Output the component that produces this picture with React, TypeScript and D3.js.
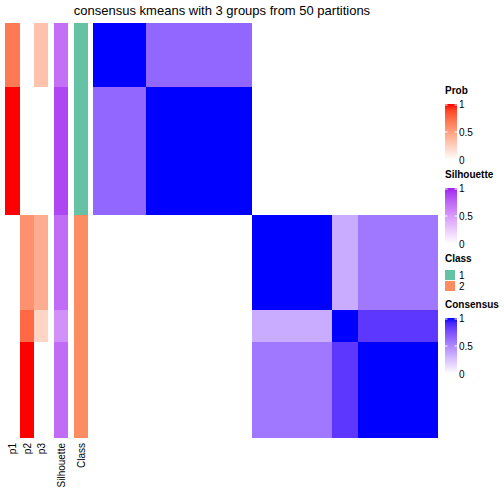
import React from "react";
import * as d3 from "d3";

const title = "consensus kmeans with 3 groups from 50 partitions";
// 13 samples in display order
const p1 = [0.68, 0.68, 1, 1, 1, 1, 0, 0, 0, 0, 0, 0, 0];
const p2 = [0, 0, 0, 0, 0, 0, 0.57, 0.57, 0.57, 0.75, 1, 1, 1];
const p3 = [0.32, 0.32, 0, 0, 0, 0, 0.43, 0.43, 0.43, 0.22, 0, 0, 0];
const silhouette = [0.7, 0.7, 0.88, 0.88, 0.88, 0.88, 0.72, 0.72, 0.72, 0.55, 0.72, 0.72, 0.72];
const classes = [1, 1, 1, 1, 1, 1, 2, 2, 2, 2, 2, 2, 2];
const consensus = [
  [1, 1, 0.65, 0.65, 0.65, 0.65, 0, 0, 0, 0, 0, 0, 0],
  [1, 1, 0.65, 0.65, 0.65, 0.65, 0, 0, 0, 0, 0, 0, 0],
  [0.65, 0.65, 1, 1, 1, 1, 0, 0, 0, 0, 0, 0, 0],
  [0.65, 0.65, 1, 1, 1, 1, 0, 0, 0, 0, 0, 0, 0],
  [0.65, 0.65, 1, 1, 1, 1, 0, 0, 0, 0, 0, 0, 0],
  [0.65, 0.65, 1, 1, 1, 1, 0, 0, 0, 0, 0, 0, 0],
  [0, 0, 0, 0, 0, 0, 1, 1, 1, 0.35, 0.58, 0.58, 0.58],
  [0, 0, 0, 0, 0, 0, 1, 1, 1, 0.35, 0.58, 0.58, 0.58],
  [0, 0, 0, 0, 0, 0, 1, 1, 1, 0.35, 0.58, 0.58, 0.58],
  [0, 0, 0, 0, 0, 0, 0.35, 0.35, 0.35, 1, 0.85, 0.85, 0.85],
  [0, 0, 0, 0, 0, 0, 0.58, 0.58, 0.58, 0.85, 1, 1, 1],
  [0, 0, 0, 0, 0, 0, 0.58, 0.58, 0.58, 0.85, 1, 1, 1],
  [0, 0, 0, 0, 0, 0, 0.58, 0.58, 0.58, 0.85, 1, 1, 1],
];
const classColors: Record<number, string> = { 1: "#66C2A5", 2: "#FC8D62" };
const annotationNames = ["p1", "p2", "p3", "Silhouette", "Class"];
const legendTicks = [0, 0.5, 1];

const probColor = d3.interpolateLab("white", "red");
const silColor = d3.interpolateLab("white", "#A020F0");
const consColor = d3.interpolateLab("white", "blue");

const FONT = "Liberation Sans, Arial, sans-serif";

function GradientLegend({ id, label, y0, interp }: { id: string; label: string; y0: number; interp: (t: number) => string }) {
  const barTop = y0 + 10;
  const barH = 56;
  const sy = d3.scaleLinear().domain([0, 1]).range([barTop + barH, barTop]);
  const stops = d3.range(0, 1.0001, 0.1);
  return (
    <g>
      <defs>
        <linearGradient id={id} x1="0" y1="1" x2="0" y2="0">
          {stops.map((s) => (
            <stop key={s} offset={s} stopColor={interp(s)} />
          ))}
        </linearGradient>
      </defs>
      <text x={445} y={y0} fontSize={10} fontWeight="bold" fontFamily={FONT}>{label}</text>
      <rect x={445} y={barTop} width={12} height={barH} fill={`url(#${id})`} />
      {legendTicks.map((t) => (
        <g key={t}>
          {t > 0 ? (
            <>
              <line x1={445} x2={447.5} y1={sy(t) + (t === 1 ? 1 : 0)} y2={sy(t) + (t === 1 ? 1 : 0)} stroke="white" strokeWidth={1} />
              <line x1={454.5} x2={457} y1={sy(t) + (t === 1 ? 1 : 0)} y2={sy(t) + (t === 1 ? 1 : 0)} stroke="white" strokeWidth={1} />
            </>
          ) : null}
          <text x={459} y={sy(t) + 3.5} fontSize={10} fontFamily={FONT}>{t}</text>
        </g>
      ))}
    </g>
  );
}

export default function App() {
  const n = classes.length;
  const top = 23;
  const bottom = 438;
  const y = d3.scaleBand<number>().domain(d3.range(n)).range([top, bottom]);
  const x = d3.scaleBand<number>().domain(d3.range(n)).range([93, 438]);
  const annX = [5, 20, 34, 54, 74];
  const annW = [15, 14, 14, 14, 14];
  const annFill = [
    (i: number) => probColor(p1[i]),
    (i: number) => probColor(p2[i]),
    (i: number) => probColor(p3[i]),
    (i: number) => silColor(silhouette[i]),
    (i: number) => classColors[classes[i]],
  ];
  return (
    <svg width={504} height={504} style={{ position: "absolute", left: 0, top: 0 }}>
      <rect width={504} height={504} fill="white" />
      <text x={222} y={15} textAnchor="middle" fontSize={13} fontFamily={FONT}>{title}</text>
      <g shapeRendering="crispEdges">
        {annFill.map((f, k) => (
          <g key={k}>
            {d3.range(n).map((i) => (
              <rect key={i} x={annX[k]} y={Math.round(y(i)!)} width={annW[k]} height={Math.round(y(i)! + y.bandwidth()) - Math.round(y(i)!)} fill={f(i)} />
            ))}
          </g>
        ))}
        {consensus.map((row, i) =>
          row.map((v, j) => {
            const x0 = Math.round(x(j)!);
            const x1 = Math.round(x(j)! + x.bandwidth());
            const y0 = Math.round(y(i)!);
            const y1 = Math.round(y(i)! + y.bandwidth());
            return <rect key={`${i}-${j}`} x={x0} y={y0} width={x1 - x0} height={y1 - y0} fill={consColor(v)} />;
          })
        )}
      </g>
      {annotationNames.map((name, k) => (
        <text
          key={name}
          transform={`translate(${annX[k] + annW[k] / 2 + 3.5},443) rotate(-90)`}
          textAnchor="end"
          fontSize={10}
          fontFamily={FONT}
        >
          {name}
        </text>
      ))}
      <GradientLegend id="gProb" label="Prob" y0={94} interp={probColor} />
      <GradientLegend id="gSil" label="Silhouette" y0={178} interp={silColor} />
      <text x={445} y={262} fontSize={10} fontWeight="bold" fontFamily={FONT}>Class</text>
      {[1, 2].map((c, k) => (
        <g key={c}>
          <rect x={445} y={270 + k * 11} width={10} height={10} fill={classColors[c]} />
          <text x={459} y={279 + k * 11} fontSize={10} fontFamily={FONT}>{c}</text>
        </g>
      ))}
      <GradientLegend id="gCons" label="Consensus" y0={308} interp={consColor} />
    </svg>
  );
}
